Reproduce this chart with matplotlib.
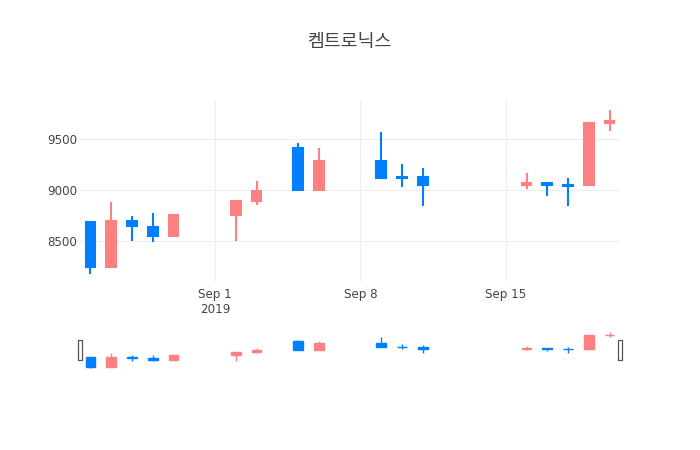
import matplotlib
matplotlib.use("Agg")
import matplotlib.pyplot as plt
import matplotlib.dates as mdates
from matplotlib.patches import Rectangle
import pandas as pd

# daily OHLC
dates = ["2019-08-26", "2019-08-27", "2019-08-28", "2019-08-29", "2019-08-30",
         "2019-09-02", "2019-09-03", "2019-09-05", "2019-09-06",
         "2019-09-09", "2019-09-10", "2019-09-11",
         "2019-09-16", "2019-09-17", "2019-09-18", "2019-09-19", "2019-09-20"]
opens = [8690, 8250, 8700, 8640, 8550, 8760, 8890, 9410, 9000,
         9290, 9130, 9130, 9050, 9070, 9055, 9050, 9660]
highs = [8690, 8880, 8750, 8780, 8770, 8890, 9090, 9460, 9410,
         9570, 9260, 9220, 9170, 9070, 9120, 9660, 9790]
lows = [8180, 8250, 8500, 8490, 8550, 8500, 8860, 9000, 9000,
        9120, 9030, 8850, 9010, 8940, 8850, 9050, 9580]
closes = [8250, 8700, 8650, 8550, 8760, 8890, 8990, 9000, 9290,
          9120, 9120, 9050, 9070, 9050, 9040, 9660, 9680]

title = "켐트로닉스"
xticks = ["2019-09-01", "2019-09-08", "2019-09-15"]
xtick_labels = ["Sep 1\n2019", "Sep 8", "Sep 15"]
yticks = [8500, 9000, 9500]

UP = "#ff8080"
DOWN = "#0080ff"
TXT = "#444444"

plt.rcParams["font.family"] = ["DejaVu Sans"]

x = mdates.date2num(pd.to_datetime(dates))
xmin = mdates.date2num(pd.Timestamp("2019-08-25 12:00"))
xmax = mdates.date2num(pd.Timestamp("2019-09-20 12:00"))
ylim = (8100, 9885)


def draw_candles(ax, lw):
    for xi, o, h, l, c in zip(x, opens, highs, lows, closes):
        col = UP if c > o else DOWN
        ax.vlines(xi, l, h, color=col, lw=lw, zorder=2)
        ax.bar(xi, abs(c - o), bottom=min(o, c), width=0.47,
               color=col, edgecolor=col, lw=lw, zorder=3)
    ax.set_xlim(xmin, xmax)
    ax.set_ylim(*ylim)
    for s in ax.spines.values():
        s.set_visible(False)


fig = plt.figure(figsize=(7, 4.5), dpi=100)
ax = fig.add_axes([80 / 700, 1 - 282 / 450, 540 / 700, 182 / 450])
draw_candles(ax, 1.5)
ax.set_xticks(mdates.date2num(pd.to_datetime(xticks)))
ax.set_xticklabels(xtick_labels)
ax.set_yticks(yticks)
ax.set_yticklabels([str(v) for v in yticks])
ax.tick_params(length=0, labelsize=8.6, colors=TXT)
ax.tick_params(axis="x", pad=4)
ax.tick_params(axis="y", pad=2)
ax.grid(True, color="#eeeeee", lw=0.8)
ax.set_axisbelow(True)

sl = fig.add_axes([80 / 700, 1 - 370 / 450, 540 / 700, 40 / 450])
draw_candles(sl, 1.0)
sl.set_xticks([])
sl.set_yticks([])

# range slider grab handles
for px in (80, 620):
    fig.add_artist(Rectangle(((px - 2) / 700, 1 - 360 / 450), 4 / 700, 20 / 450,
                             transform=fig.transFigure, facecolor="white",
                             edgecolor="#555555", lw=0.9, joinstyle="round"))

fig.text(0.5, 1 - 42 / 450, title, ha="center", va="center", fontsize=13.2,
         color=TXT, family=["Noto Sans CJK KR", "DejaVu Sans"])

fig.savefig("out.png", dpi=100)
